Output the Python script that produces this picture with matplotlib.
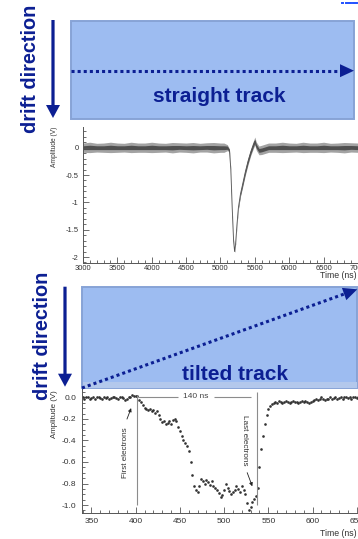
import numpy as np
import matplotlib.pyplot as plt
from matplotlib.patches import Rectangle, Polygon, FancyArrow
from matplotlib.ticker import FixedLocator, FixedFormatter, MultipleLocator

plt.rcParams['font.family'] = ['Liberation Sans', 'DejaVu Sans']

# ---- straight track waveform (noise band) ----
t_top = [3000, 3100, 3200, 3300, 3400, 3500, 3600, 3700, 3800, 3900,
         4000, 4100, 4200, 4300, 4400, 4500, 4600, 4700, 4800, 4900, 5000,
         5050, 5100, 5130, 5150, 5170, 5190, 5205, 5220, 5240, 5260, 5290,
         5320, 5360, 5400, 5440, 5480, 5500, 5520, 5560, 5600, 5650, 5700,
         5800, 5900, 6000, 6100, 6200, 6300, 6400, 6500, 6600, 6700, 6800,
         6900, 7000, 7100]
amp_top = [0.0, 0.005, 0.0, 0.0, 0.005, 0.0, 0.0, 0.005, 0.0, 0.0,
           0.005, 0.0, 0.0, 0.0, 0.005, 0.0, 0.0, 0.0, 0.005, 0.0, 0.0,
           0.0, 0.0, -0.05, -0.4, -1.1, -1.7, -1.9, -1.75, -1.4, -1.1, -0.85,
           -0.68, -0.45, -0.25, -0.08, 0.06, 0.12, 0.03, -0.05, -0.04, -0.02, 0.0,
           0.0, 0.005, 0.0, 0.0, 0.005, 0.0, 0.0, 0.005, 0.0, 0.0, 0.0,
           0.005, 0.0, 0.0]
noise_in = [0.035, 0.04, 0.035, 0.035, 0.04, 0.035, 0.035, 0.04, 0.035, 0.035,
            0.04, 0.035, 0.035, 0.04, 0.035, 0.035, 0.04, 0.035, 0.035, 0.04, 0.035,
            0.035, 0.03, 0.018, 0.01, 0.01, 0.01, 0.01, 0.01, 0.013, 0.018, 0.025,
            0.03, 0.032, 0.035, 0.035, 0.035, 0.035, 0.035, 0.035, 0.035, 0.035, 0.035,
            0.035, 0.04, 0.035, 0.035, 0.04, 0.035, 0.035, 0.04, 0.035, 0.035, 0.04,
            0.035, 0.035, 0.035]
noise_out = [0.085, 0.095, 0.08, 0.085, 0.095, 0.085, 0.08, 0.095, 0.085, 0.085,
             0.095, 0.085, 0.08, 0.095, 0.085, 0.085, 0.095, 0.08, 0.085, 0.095, 0.085,
             0.085, 0.055, 0.03, 0.018, 0.018, 0.018, 0.018, 0.018, 0.022, 0.03, 0.045,
             0.055, 0.06, 0.065, 0.065, 0.07, 0.075, 0.075, 0.08, 0.085, 0.085, 0.085,
             0.085, 0.095, 0.085, 0.08, 0.095, 0.085, 0.085, 0.095, 0.08, 0.085, 0.095,
             0.085, 0.085, 0.085]

# ---- tilted track waveform, one sample every 2 ns ----
t_bot = np.arange(340, 661, 2)
amp_bot = [0.0, -0.01, 0.0, 0.0, -0.01, -0.005, 0.0, -0.01, 0.0, 0.005,
           -0.005, -0.01, 0.0, -0.005, 0.0, -0.01, -0.005, 0.0, 0.005, -0.005,
           -0.01, 0.0, 0.0, -0.005, -0.02, -0.01, 0.0, 0.005, 0.02, 0.015, 0.01,
           0.01, -0.02, -0.04, -0.07, -0.1, -0.11, -0.12, -0.11, -0.13, -0.12,
           -0.14, -0.13, -0.16, -0.2, -0.23, -0.22, -0.25, -0.24, -0.22, -0.25,
           -0.21, -0.2, -0.22, -0.27, -0.31, -0.36, -0.4, -0.42, -0.45, -0.5,
           -0.6, -0.72, -0.82, -0.86, -0.88, -0.82, -0.76, -0.78, -0.8, -0.77,
           -0.79, -0.81, -0.78, -0.82, -0.84, -0.86, -0.89, -0.93, -0.91, -0.86,
           -0.8, -0.84, -0.87, -0.9, -0.88, -0.86, -0.82, -0.85, -0.88, -0.82,
           -0.86, -0.9, -0.98, -1.05, -1.02, -0.97, -0.94, -0.92, -0.84, -0.65,
           -0.48, -0.36, -0.25, -0.16, -0.11, -0.08, -0.06, -0.05, -0.04, -0.05,
           -0.03, -0.04, -0.05, -0.04, -0.03, -0.04, -0.05, -0.04, -0.03, -0.04,
           -0.04, -0.05, -0.04, -0.03, -0.04, -0.03, -0.04, -0.05, -0.04, -0.03,
           -0.02, -0.01, -0.02, -0.01, 0.0, -0.01, -0.02, -0.01, -0.01, 0.0,
           -0.01, -0.005, 0.0, -0.01, -0.005, 0.0, -0.01, 0.0, 0.005, -0.005,
           0.0, -0.01, 0.0, 0.0, -0.005, 0.0, -0.01, 0.0, 0.005, 0.0]

top_xticks = [3000, 3500, 4000, 4500, 5000, 5500, 6000, 6500, 7000]
top_yticks = [0, -0.5, -1, -1.5, -2]
top_ylabels = ['0', '-0.5', '-1', '-1.5', '-2']
bot_xticks = [350, 400, 450, 500, 550, 600, 650]
bot_yticks = [0.0, -0.2, -0.4, -0.6, -0.8, -1.0]
bot_ylabels = ['0.0', '-0.2', '-0.4', '-0.6', '-0.8', '-1.0']
first_t, last_t = 401, 537

W, H = 358, 539
navy = '#0c1f93'
box_blue = '#9dbcf1'
box_edge = '#87a3d6'
axis_col = '#555555'
trace_col = '#505050'

fig = plt.figure(figsize=(W / 100, H / 100), dpi=100)


def px_axes(left, top, right, bottom):
    return fig.add_axes([left / W, 1 - bottom / H, (right - left) / W, (bottom - top) / H])


def style_axes(ax, size):
    for s in ['top', 'right']:
        ax.spines[s].set_visible(False)
    for s in ['left', 'bottom']:
        ax.spines[s].set_color(axis_col)
        ax.spines[s].set_linewidth(0.7)
    ax.tick_params(which='both', direction='in', colors=axis_col, width=0.6,
                   labelsize=size, labelcolor='#333333')
    ax.tick_params(which='major', length=4)
    ax.tick_params(which='minor', length=2)
    ax.patch.set_alpha(0)


# top scope plot
ax1 = px_axes(83, 126.7, 365, 263.3)
lo_out = [m - n for m, n in zip(amp_top, noise_out)]
hi_out = [m + n for m, n in zip(amp_top, noise_out)]
lo_in = [m - n for m, n in zip(amp_top, noise_in)]
hi_in = [m + n for m, n in zip(amp_top, noise_in)]
ax1.fill_between(t_top, lo_out, hi_out, color='#a3a3a3', lw=0)
ax1.fill_between(t_top, lo_in, hi_in, color=trace_col, lw=0)
ax1.plot(t_top, amp_top, color=trace_col, lw=0.6)
ax1.set_xlim(3000, 7102)
ax1.set_ylim(-2.115, 0.384)
style_axes(ax1, 5.5)
ax1.xaxis.set_major_locator(FixedLocator(top_xticks))
ax1.xaxis.set_minor_locator(MultipleLocator(100))
ax1.yaxis.set_major_locator(FixedLocator(top_yticks))
ax1.yaxis.set_major_formatter(FixedFormatter(top_ylabels))
ax1.yaxis.set_minor_locator(MultipleLocator(0.1))
ax1.tick_params(axis='x', pad=1.5)
ax1.tick_params(axis='y', pad=3)

# bottom scope plot
ax2 = px_axes(82.3, 388, 366, 513.3)
ax2.plot(t_bot, amp_bot, 'o', ms=1.9, mew=0, color='#333333')
ax2.set_xlim(339.6, 660.5)
ax2.set_ylim(-1.077, 0.088)
style_axes(ax2, 6)
ax2.xaxis.set_major_locator(FixedLocator(bot_xticks))
ax2.xaxis.set_minor_locator(MultipleLocator(10))
ax2.yaxis.set_major_locator(FixedLocator(bot_yticks))
ax2.yaxis.set_major_formatter(FixedFormatter(bot_ylabels))
ax2.yaxis.set_minor_locator(MultipleLocator(0.05))
ax2.tick_params(axis='x', pad=3.5)
ax2.tick_params(axis='y', pad=4.5)

gray = '#8c8c8c'
ax2.vlines(first_t, -1.0, 0.02, color=gray, lw=0.8)
ax2.vlines(last_t, -1.0, 0.05, color=gray, lw=0.8)
ax2.hlines(0.005, first_t + 2, 448, color=gray, lw=0.8)
ax2.hlines(0.005, 489, last_t - 7, color=gray, lw=0.8)
ax2.text(468, 0.005, '140 ns', fontsize=6, color='#444444', ha='center', va='center')
ax2.text(388.5, -0.51, 'First electrons', fontsize=5.9, color='#333333',
         rotation=90, ha='center', va='center')
ax2.text(523.6, -0.40, 'Last electrons', fontsize=5.9, color='#333333',
         rotation=-90, ha='center', va='center')
ax2.annotate('', xy=(396, -0.075), xytext=(389, -0.225),
             arrowprops=dict(arrowstyle='-|>', color='#222222', lw=0.6, mutation_scale=5))
ax2.annotate('', xy=(533, -0.85), xytext=(525, -0.675),
             arrowprops=dict(arrowstyle='-|>', color='#222222', lw=0.6, mutation_scale=5))

# overlay in pixel coordinates for the schematic parts
ov = fig.add_axes([0, 0, 1, 1])
ov.set_xlim(0, W)
ov.set_ylim(H, 0)
ov.axis('off')


def dotted_arrow(x0, y0, x1, y1):
    d = np.array([x1 - x0, y1 - y0], dtype=float)
    u = d / np.hypot(*d)
    n = np.array([-u[1], u[0]])
    tip = np.array([x1, y1], dtype=float)
    base = tip - u * 14
    ov.plot([x0, base[0]], [y0, base[1]], color=navy, lw=2.2,
            linestyle=(0, (1, 1)), dash_capstyle='butt')
    ov.add_patch(Polygon([base + n * 6.5, tip, base - n * 6.5], closed=True,
                         color=navy, lw=0))


# straight track box
ov.add_patch(Rectangle((71, 20.7), 283, 98.6, facecolor=box_blue,
                       edgecolor=box_edge, lw=1.4))
dotted_arrow(71, 70.7, 354, 70.7)
ov.text(219, 97, 'straight track', fontsize=15, fontweight='bold', color=navy,
        ha='center', va='center')
ov.add_patch(FancyArrow(53, 20, 0, 98, width=3.2, head_width=14, head_length=13,
                        length_includes_head=True, color=navy, lw=0))
ov.text(31, 68.5, 'drift direction', fontsize=14.3, fontweight='bold', color=navy,
        rotation=90, ha='center', va='center')
ov.plot([341.7, 342.7], [3, 3], color='#2050ff', lw=1.4)
ov.plot([345.7, 350.7], [3, 3], color='#2050ff', lw=1.4)
ov.plot([352.7, 356.7], [3, 3], color='#2050ff', lw=1.4)

# tilted track box
ov.add_patch(Rectangle((82, 286.7), 275, 101.3, facecolor=box_blue,
                       edgecolor=box_edge, lw=1.4))
ov.add_patch(Rectangle((82.7, 382), 274, 5.5, facecolor='#b3c8ec', lw=0))
dotted_arrow(82, 388, 357.3, 289.3)
ov.text(235, 374, 'tilted track', fontsize=15, fontweight='bold', color=navy,
        ha='center', va='center')
ov.add_patch(FancyArrow(65, 286.7, 0, 100, width=3.2, head_width=14, head_length=13,
                        length_includes_head=True, color=navy, lw=0))
ov.text(42.5, 336, 'drift direction', fontsize=14.3, fontweight='bold', color=navy,
        rotation=90, ha='center', va='center')

# axis titles
ov.text(55, 126.7, 'Amplitude (V)', fontsize=4.8, color='#333333', rotation=90,
        ha='center', va='top')
ov.text(357, 275, 'Time (ns)', fontsize=6.3, color='#333333', ha='right', va='center')
ov.text(55, 390, 'Amplitude (V)', fontsize=5.7, color='#333333', rotation=90,
        ha='center', va='top')
ov.text(357, 534, 'Time (ns)', fontsize=6.3, color='#333333', ha='right', va='center')

fig.savefig('out.png', dpi=100)
